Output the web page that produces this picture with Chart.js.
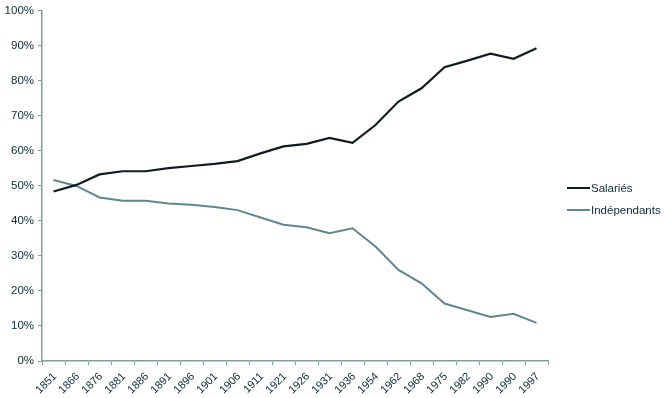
<!DOCTYPE html>
<html>
<head>
<meta charset="utf-8">
<script src="https://cdn.jsdelivr.net/npm/chart.js@4.4.0/dist/chart.umd.min.js"></script>
<style>
  html, body { margin: 0; padding: 0; background: #ffffff; }
  #wrap { width: 665px; height: 398px; position: relative; }
</style>
</head>
<body>
<div id="wrap"><canvas id="c" width="665" height="398"></canvas></div>
<script>
const years = ["1851","1866","1876","1881","1886","1891","1896","1901","1906","1911","1921","1926","1931","1936","1954","1962","1968","1975","1982","1990","1990","1997"];
const salaries = [48.4, 50.3, 53.3, 54.2, 54.2, 55.1, 55.7, 56.3, 57.1, 59.3, 61.3, 62.0, 63.7, 62.3, 67.4, 74.1, 77.9, 83.9, 85.8, 87.8, 86.3, 89.3];
const independants = [51.7, 50.0, 46.7, 45.8, 45.8, 45.0, 44.6, 44.0, 43.1, 41.0, 38.9, 38.2, 36.5, 37.9, 32.7, 26.0, 22.2, 16.4, 14.5, 12.6, 13.5, 10.9];
const yTicks = [0, 10, 20, 30, 40, 50, 60, 70, 80, 90, 100];

const AXIS = '#7f9ea3';
const TEXT = '#0b2a33';
const C1 = '#0f1d22';
const C2 = '#5f878c';
const FONT = 'Liberation Sans, Arial, Helvetica, sans-serif';

const legendPlugin = {
  id: 'customLegend',
  afterDraw(chart) {
    const ctx = chart.ctx;
    const items = [
      { label: 'Salariés', color: C1, y: 188 },
      { label: 'Indépendants', color: C2, y: 210 }
    ];
    ctx.save();
    ctx.font = '11.5px ' + FONT;
    ctx.textBaseline = 'middle';
    ctx.textAlign = 'left';
    items.forEach(it => {
      ctx.strokeStyle = it.color;
      ctx.lineWidth = 2;
      ctx.beginPath();
      ctx.moveTo(567, it.y);
      ctx.lineTo(590, it.y);
      ctx.stroke();
      ctx.fillStyle = TEXT;
      ctx.fillText(it.label, 591, it.y + 1);
    });
    ctx.restore();
  }
};

new Chart(document.getElementById('c'), {
  type: 'line',
  data: {
    labels: years,
    datasets: [
      { label: 'Salariés', data: salaries, borderColor: C1, backgroundColor: C1, borderWidth: 2.2, pointRadius: 0, tension: 0, fill: false },
      { label: 'Indépendants', data: independants, borderColor: C2, backgroundColor: C2, borderWidth: 2, pointRadius: 0, tension: 0, fill: false }
    ]
  },
  options: {
    responsive: false,
    animation: false,
    devicePixelRatio: 1,
    layout: { padding: { top: 9, right: 117, left: 0, bottom: 0 } },
    plugins: { legend: { display: false }, tooltip: { enabled: false } },
    scales: {
      x: {
        type: 'category',
        offset: true,
        grid: { offset: true, drawOnChartArea: false, drawTicks: true, tickLength: 4, color: AXIS, lineWidth: 1 },
        border: { display: true, color: AXIS, width: 1.5 },
        ticks: { color: TEXT, font: { family: FONT, size: 11 }, minRotation: 45, maxRotation: 45, autoSkip: false, padding: 5, labelOffset: 1.5 },
        afterFit(scale) { scale.height = 37; }
      },
      y: {
        min: 0, max: 100,
        afterBuildTicks(scale) { scale.ticks = yTicks.map(v => ({ value: v })); },
        grid: { drawOnChartArea: false, drawTicks: true, tickLength: 4, color: AXIS, lineWidth: 1 },
        border: { display: true, color: AXIS, width: 1.5 },
        ticks: { color: TEXT, font: { family: FONT, size: 11.5 }, padding: 4, callback: v => v + '%' },
        afterFit(scale) { scale.width = 42; }
      }
    }
  },
  plugins: [legendPlugin]
});
</script>
</body>
</html>
